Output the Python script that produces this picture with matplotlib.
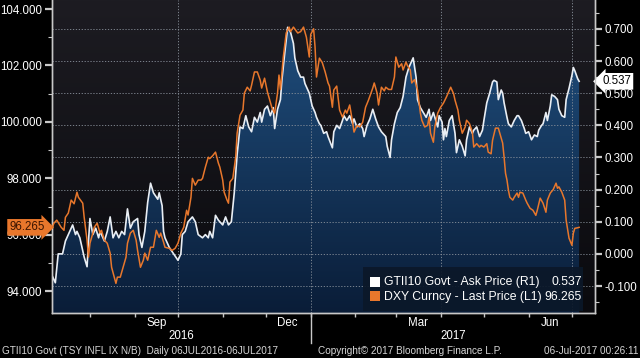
import numpy as np
import pandas as pd
import matplotlib
matplotlib.use('Agg')
import matplotlib.pyplot as plt
import matplotlib.dates as mdates
import matplotlib.transforms as mtransforms
from matplotlib.patches import PathPatch, Rectangle
from matplotlib.colors import LinearSegmentedColormap
from matplotlib.ticker import FixedLocator, FixedFormatter, MultipleLocator, FormatStrFormatter

plt.rcParams['font.family'] = ['Liberation Sans', 'DejaVu Sans']

# GTII10 Govt - Ask Price (R1), days since 06JUL2016
w_days = [0, 2, 4, 7, 9, 11, 14, 16, 17, 19, 22, 24, 25, 26, 28, 30, 32, 33, 36, 38,
          40, 42, 44, 46, 48, 50, 52, 54, 56, 59, 60, 62, 64, 66, 68, 70, 73, 74, 76, 77,
          78, 81, 84, 87, 89, 90, 92,
          94, 97, 99, 101, 104, 106, 108, 109, 111, 113, 115, 118, 120, 122, 124, 126, 128, 130, 132, 134,
          136, 138, 140, 142, 144, 145, 147, 149, 151, 153, 154, 156, 158, 159, 161, 163, 165, 167, 168, 170,
          172, 174, 175, 178, 180, 182,
          183, 185, 186, 188, 190, 191, 194, 195, 197, 199, 201, 202, 204, 206, 208, 209, 211, 213, 215, 216,
          218, 220, 222, 224, 226, 228, 231, 232, 234, 235, 237, 239, 241, 243, 245, 247, 249, 250, 252, 253,
          255, 257, 259, 261, 262, 264, 267, 268, 270, 271, 272,
          273, 275, 277, 279, 280, 282, 284, 286, 287, 289, 291, 292, 294, 296, 298, 299, 301, 303, 305, 306,
          308, 309, 311, 312, 313, 315, 316, 318, 320, 322, 323, 325, 327, 328, 330, 332, 334, 336, 337, 339,
          340, 342, 343, 345, 346, 348, 350, 351, 353, 355, 356, 358, 360, 361, 362, 364, 365]
w_vals = [-0.07, -0.09, 0.00, 0.00, 0.04, 0.06, 0.09, 0.06, 0.07, 0.05, -0.01, -0.04, 0.04, 0.11, 0.06, 0.08, 0.05, 0.07, 0.04, 0.07,
          0.115, 0.05, 0.07, 0.05, 0.07, 0.06, 0.14, 0.08, 0.10, 0.11, 0.06, 0.02, 0.07, 0.16, 0.22, 0.19, 0.17, 0.19, 0.15, 0.07,
          0.05, 0.02, 0.00, -0.02, 0.00, 0.06, 0.07,
          0.10, 0.115, 0.10, 0.06, 0.05, 0.06, 0.05, 0.07, 0.05, 0.12, 0.105, 0.09, 0.115, 0.09, 0.10, 0.19, 0.31, 0.395, 0.39, 0.43,
          0.395, 0.38, 0.425, 0.41, 0.44, 0.41, 0.45, 0.46, 0.43, 0.455, 0.39, 0.45, 0.48, 0.54, 0.625, 0.705, 0.69, 0.655, 0.61, 0.57,
          0.55, 0.55, 0.53, 0.50, 0.46, 0.44,
          0.425, 0.405, 0.40, 0.375, 0.38, 0.365, 0.33, 0.38, 0.40, 0.39, 0.415, 0.43, 0.415, 0.43, 0.405, 0.42, 0.395, 0.405, 0.39, 0.365,
          0.40, 0.42, 0.45, 0.42, 0.395, 0.38, 0.365, 0.335, 0.30, 0.355, 0.405, 0.44, 0.455, 0.49, 0.55, 0.58, 0.60, 0.61, 0.55, 0.48,
          0.455, 0.44, 0.425, 0.45, 0.415, 0.44, 0.395, 0.43, 0.41, 0.355, 0.39,
          0.365, 0.415, 0.43, 0.375, 0.315, 0.355, 0.335, 0.305, 0.355, 0.395, 0.375, 0.385, 0.395, 0.365, 0.385, 0.415, 0.47, 0.50, 0.535, 0.54,
          0.535, 0.48, 0.51, 0.50, 0.47, 0.425, 0.405, 0.395, 0.415, 0.43, 0.43, 0.415, 0.39, 0.375, 0.38, 0.355, 0.37, 0.365, 0.385, 0.40,
          0.405, 0.44, 0.415, 0.46, 0.495, 0.49, 0.48, 0.45, 0.43, 0.425, 0.48, 0.515, 0.555, 0.58, 0.57, 0.545, 0.537]

# DXY Curncy - Last Price (L1)
d_days = [0, 1, 3, 6, 8, 9, 11, 13, 15, 17, 18, 21, 22, 24, 25, 26, 28, 29, 31, 33,
          34, 36, 38, 40, 41, 44, 45, 47, 49, 51, 52, 54, 56, 58, 59, 61, 63, 64, 66, 68,
          70, 72, 74, 75, 77, 78, 81, 83, 85, 87, 89, 91,
          93, 94, 96, 97, 99, 101, 103, 104, 106, 108, 109, 111, 113, 115, 116, 118, 119, 121, 122, 123,
          125, 127, 128, 130, 132, 133, 135, 137, 138, 140, 142, 144, 145, 147, 149, 151, 152, 154, 156, 157,
          158, 160, 162, 164, 165, 167, 170, 172, 174, 176, 178, 179, 181,
          182, 183, 185, 187, 189, 191, 192, 194, 195, 197, 199, 201, 203, 204, 206, 208, 209, 211, 213, 215,
          217, 219, 222, 223, 225, 226, 228, 230, 231, 233, 235, 237, 238, 240, 242, 243, 245, 246, 248, 249,
          251, 253, 255, 256, 258, 260, 261, 262, 264, 265, 267, 269, 271,
          273, 276, 278, 279, 281, 282, 284, 286, 287, 289, 291, 292, 294, 296, 297, 299, 301, 302, 304, 305,
          307, 309, 310, 312, 313, 314, 315, 316, 317, 319, 320, 322, 323, 324, 326, 328, 329, 331, 333, 335,
          336, 338, 340, 342, 343, 345, 347, 349, 350, 351, 353, 355, 356, 358, 360, 361, 362, 364, 365]
d_vals = [96.27, 96.41, 96.52, 96.27, 96.16, 96.62, 96.77, 97.23, 97.10, 97.51, 97.33, 97.12, 96.62, 95.81, 95.21, 95.70, 96.06, 96.27, 96.41, 96.06,
          96.16, 95.81, 95.70, 95.35, 94.85, 94.28, 94.50, 94.50, 94.85, 95.21, 95.70, 96.06, 96.16, 95.81, 95.45, 94.85, 95.10, 95.35, 95.10, 95.56,
          95.56, 96.16, 95.91, 96.06, 95.74, 95.56, 95.52, 95.45, 95.52, 95.70, 96.06, 96.27,
          96.87, 96.70, 97.33, 98.00, 97.76, 97.94, 97.94, 98.00, 98.40, 98.75, 98.70, 98.80, 98.93, 98.54, 98.40, 97.94, 97.51, 97.23, 97.12, 97.87,
          98.00, 98.75, 99.60, 100.24, 100.42, 101.02, 101.23, 101.10, 101.30, 101.77, 101.77, 101.48, 101.20, 101.55, 101.06, 100.70, 100.52, 100.31, 101.02, 101.66,
          101.15, 102.30, 103.15, 103.36, 103.20, 103.36, 103.15, 103.20, 103.36, 103.00, 102.30, 103.10, 103.30,
          102.65, 101.59, 102.26, 102.10, 101.77, 101.38, 101.27, 100.52, 101.13, 101.27, 100.42, 100.17, 100.42, 100.31, 100.60, 99.99, 99.64, 99.88, 99.82, 99.99,
          100.52, 100.77, 101.20, 101.38, 101.02, 100.60, 101.23, 101.10, 101.23, 101.15, 101.15, 101.59, 102.30, 101.94, 102.06, 101.84, 102.12, 102.00, 101.84, 101.38,
          101.50, 101.13, 100.31, 100.06, 99.82, 99.88, 100.17, 99.60, 99.28, 99.82, 100.31, 100.52, 100.67,
          100.88, 101.23, 101.00, 100.77, 100.42, 100.06, 99.60, 99.82, 100.06, 99.94, 99.64, 99.11, 99.23, 99.11, 99.17, 99.11, 99.23, 98.93, 98.87, 99.35,
          99.78, 99.78, 99.60, 99.25, 98.75, 98.18, 97.94, 97.58, 97.33, 97.23, 97.33, 97.48, 97.33, 97.51, 97.48, 97.23, 97.12, 96.94, 96.87, 96.69,
          96.87, 97.30, 97.12, 96.80, 97.23, 97.48, 97.60, 97.83, 97.65, 97.70, 97.51, 97.23, 96.52, 95.88, 95.63, 96.06, 96.23, 96.25, 96.265]

start = pd.Timestamp('2016-07-06')
end_view = pd.Timestamp('2017-07-17')
month_starts = pd.date_range('2016-08-01', '2017-07-01', freq='MS')
quarter_starts = ['2016-10-01', '2017-01-01', '2017-04-01', '2017-07-01']
month_labels = ['Sep', 'Dec', 'Mar', 'Jun']
month_label_dates = ['2016-09-16', '2016-12-16', '2017-03-16', '2017-06-16']
year_split = pd.Timestamp('2017-01-01')

w_last = 0.537
d_last = 96.265

w_x = mdates.date2num(start + pd.to_timedelta(w_days, unit='D'))
d_x = mdates.date2num(start + pd.to_timedelta(d_days, unit='D'))
x0 = mdates.date2num(start) - 0.3
x1 = mdates.date2num(end_view)

orange = '#e8772c'
grey = '#c8c8c8'

fig = plt.figure(figsize=(6.4, 3.58), dpi=100, facecolor='black')
ax = fig.add_axes([52/640, 1 - 313/358, 543/640, 313/358])
ax2 = ax.twinx()
ax.yaxis.tick_right()
ax2.yaxis.tick_left()

rlim = (-0.184, 0.79)
llim = (93.23, 104.32)

# plot background gradient
bg = LinearSegmentedColormap.from_list('bg', ['#1d1c22', '#0a0a0e'])
ax.imshow(np.linspace(0, 1, 256)[:, None], extent=[0, 1, 0, 1], transform=ax.transAxes,
          cmap=bg, aspect='auto', zorder=0)

# area fill with gradient, clipped to the series
fillmap = LinearSegmentedColormap.from_list('fill', ['#215283', '#0a1d38'])
im = ax.imshow(np.linspace(0, 1, 256)[:, None], extent=[0, 1, 0, 1], transform=ax.transAxes,
               cmap=fillmap, aspect='auto', zorder=1)
poly = ax.fill_between(w_x, w_vals, rlim[0], facecolor='none', edgecolor='none')
clip = PathPatch(poly.get_paths()[0], transform=ax.transData, fc='none', ec='none')
ax.add_patch(clip)
im.set_clip_path(clip)

ax.plot(w_x, w_vals, color='#e9eef4', lw=1.2, zorder=3)
ax2.plot(d_x, d_vals, color=orange, lw=1.1, zorder=3)

ax.set_xlim(x0, x1)
ax.set_ylim(*rlim)
ax2.set_ylim(*llim)

# grid
ax.yaxis.set_major_locator(MultipleLocator(0.1))
ax.yaxis.set_minor_locator(MultipleLocator(0.05))
ax.yaxis.set_major_formatter(FormatStrFormatter('%.3f'))
ax.grid(axis='y', which='major', color='#8a929c', lw=0.6, ls=(0, (1.5, 2)), zorder=2)
for q in quarter_starts:
    ax.axvline(mdates.date2num(pd.Timestamp(q)), color='#8a929c', lw=0.6, ls=(0, (1.5, 2)), zorder=2)

ax2.yaxis.set_major_locator(MultipleLocator(2))
ax2.yaxis.set_minor_locator(MultipleLocator(1))
ax2.yaxis.set_major_formatter(FormatStrFormatter('%.3f'))

for a in (ax, ax2):
    for s in a.spines.values():
        s.set_color(grey)
        s.set_linewidth(1)
    a.spines['top'].set_visible(False)
    a.tick_params(axis='y', which='major', colors=grey, labelcolor='white', labelsize=8.3, length=5, width=1.6, pad=2)
    a.tick_params(axis='y', which='minor', colors=grey, length=3, width=0.8)

# x axis: month ticks, mid-month labels
ax.xaxis.set_major_locator(FixedLocator(mdates.date2num(month_starts)))
ax.xaxis.set_major_formatter(FixedFormatter([''] * len(month_starts)))
ax.xaxis.set_minor_locator(FixedLocator(mdates.date2num(pd.to_datetime(month_label_dates))))
ax.xaxis.set_minor_formatter(FixedFormatter(month_labels))
ax.tick_params(axis='x', which='major', colors=grey, length=3, width=1)
ax.tick_params(axis='x', which='minor', length=0, labelcolor='white', labelsize=8.3, pad=3)

blend = mtransforms.blended_transform_factory(ax.transData, ax.transAxes)
xs = mdates.date2num(year_split)
ax.plot([xs, xs], [0, -0.095], transform=blend, clip_on=False, color=grey, lw=1)
ax.text((x0 + xs) / 2, -0.074, '2016', transform=blend, ha='center', va='center', color='white', fontsize=8.3)
ax.text((xs + x1) / 2, -0.074, '2017', transform=blend, ha='center', va='center', color='white', fontsize=8.3)

# last value tags
rb = mtransforms.blended_transform_factory(ax.transAxes, ax.transData)
ax.text(1.013, w_last, f'{w_last:.3f}', transform=rb, ha='left', va='center', color='black', fontsize=8.3,
        bbox=dict(boxstyle='larrow,pad=0.2', fc='white', ec='none'), zorder=6, clip_on=False)
lb = mtransforms.blended_transform_factory(ax2.transAxes, ax2.transData)
ax2.text(-0.013, d_last, f'{d_last:.3f}', transform=lb, ha='right', va='center', color='#3a1400', fontsize=8.3,
         bbox=dict(boxstyle='rarrow,pad=0.2', fc=orange, ec='none'), zorder=6, clip_on=False)

# legend box
fig.add_artist(Rectangle((363/640, 1 - 311/358), 220/640, 44/358, transform=fig.transFigure,
                         fc='#0b1829', ec='none', alpha=0.92))
fig.add_artist(Rectangle((370/640, 1 - 287/358), 10/640, 10/358, transform=fig.transFigure, fc='white', ec='none'))
fig.add_artist(Rectangle((370/640, 1 - 301/358), 10/640, 10/358, transform=fig.transFigure, fc=orange, ec='none'))
fig.text(384/640, 1 - 282/358, 'GTII10 Govt - Ask Price (R1)', color='white', fontsize=8.8, va='center')
fig.text(582/640, 1 - 282/358, f'{w_last:.3f}', color='white', fontsize=8.8, va='center', ha='right')
fig.text(384/640, 1 - 297/358, 'DXY Curncy - Last Price (L1)', color='white', fontsize=8.8, va='center')
fig.text(582/640, 1 - 297/358, f'{d_last:.3f}', color='white', fontsize=8.8, va='center', ha='right')

# footer
fig.text(2/640, 1 - 351/358, 'GTII10 Govt (TSY INFL IX N/B)  Daily 06JUL2016-06JUL2017',
         color='#d6d6d6', fontsize=7.2, va='center')
fig.text(410/640, 1 - 351/358, 'Copyright\u00a9 2017 Bloomberg Finance L.P.',
         color='#d6d6d6', fontsize=7.2, va='center', ha='center')
fig.text(638/640, 1 - 351/358, '06-Jul-2017 00:26:11', color='#d6d6d6', fontsize=7.2, va='center', ha='right')

fig.savefig('out.png', dpi=100, facecolor='black')
